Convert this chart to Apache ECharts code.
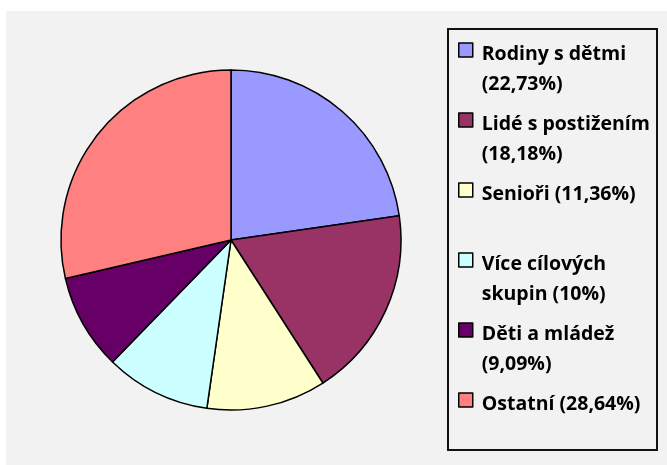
<!DOCTYPE html>
<html>
<head>
<meta charset="utf-8">
<script src="https://cdn.jsdelivr.net/npm/echarts@6/dist/echarts.min.js"></script>
<style>
  html, body { margin: 0; padding: 0; background: #fff; }
  #main { width: 667px; height: 465px; }
</style>
</head>
<body>
<div id="main"></div>
<script>
  // data (percent shares)
  var categories = ['Rodiny s dětmi', 'Lidé s postižením', 'Senioři', 'Více cílových skupin', 'Děti a mládež', 'Ostatní'];
  var values = [22.73, 18.18, 11.36, 10, 9.09, 28.64];
  var colors = ['#9999ff', '#993366', '#ffffcc', '#ccffff', '#660066', '#ff8080'];
  // legend wording as wrapped in the original
  var legendText = [
    'Rodiny s dětmi\n(22,73%)',
    'Lidé s postižením\n(18,18%)',
    'Senioři (11,36%)\n ',
    'Více cílových\nskupin (10%)',
    'Děti a mládež\n(9,09%)',
    'Ostatní (28,64%)\n '
  ];

  var myChart = echarts.init(document.getElementById('main'));

  var pieData = [];
  for (var i = 0; i < categories.length; i++) {
    pieData.push({ name: categories[i], value: values[i], itemStyle: { color: colors[i] } });
  }

  var option = {
    animation: false,
    backgroundColor: '#fff',
    graphic: [
      {
        type: 'rect',
        z: -10,
        shape: { x: 6, y: 11, width: 661, height: 454 },
        style: { fill: '#f2f2f2' }
      },
      {
        type: 'rect',
        z: -5,
        shape: { x: 448, y: 29, width: 209, height: 421 },
        style: { fill: '#f2f2f2', stroke: '#111', lineWidth: 2 }
      }
    ],
    legend: {
      orient: 'vertical',
      left: 458,
      top: 39,
      padding: 0,
      itemWidth: 14,
      itemHeight: 52,
      itemGap: 10,
      // square marker sitting on the first text line
      icon: 'path://M0,0H14V14H0Z M0,52',
      itemStyle: { borderColor: '#000', borderWidth: 1.5 },
      data: categories,
      formatter: function (name) {
        return legendText[categories.indexOf(name)];
      },
      textStyle: {
        fontFamily: 'Open Sans',
        fontWeight: 'bold',
        fontSize: 19.5,
        color: '#000',
        lineHeight: 30,
        padding: [0, 0, 0, 4]
      }
    },
    series: [
      {
        type: 'pie',
        center: [231, 240],
        radius: 170,
        startAngle: 90,
        clockwise: true,
        label: { show: false },
        labelLine: { show: false },
        emphasis: { disabled: true },
        itemStyle: { borderColor: '#000', borderWidth: 1.5 },
        data: pieData
      }
    ]
  };

  myChart.setOption(option);
</script>
</body>
</html>
